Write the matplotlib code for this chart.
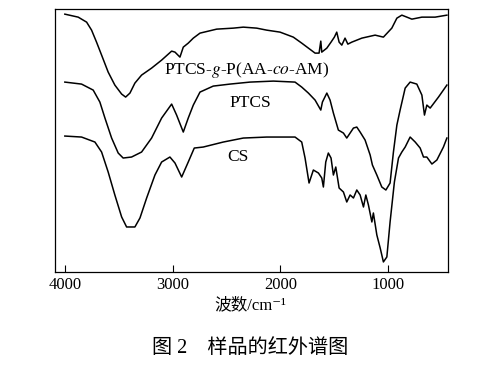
import matplotlib.pyplot as plt

plt.rcParams['font.family'] = ['Liberation Serif', 'Noto Sans CJK SC', 'DejaVu Sans']
plt.rcParams['mathtext.fontset'] = 'stix'

# PTCS-g-P(AA-co-AM)
wn_graft = [4000, 3876, 3798, 3752, 3706, 3659, 3598, 3536, 3473, 3436, 3396, 3350, 3288, 3195,
            3102, 3009, 2978, 2932, 2901, 2855, 2808, 2746, 2591, 2437, 2344, 2220, 2127, 2003,
            1880, 1802, 1740, 1678, 1641, 1625, 1616, 1569, 1530, 1499, 1477, 1455, 1430, 1400,
            1374, 1337, 1244, 1121, 1044, 966, 919, 873, 826, 780, 687, 564, 455]
t_graft = [258, 255, 250, 242, 230, 217, 200, 187, 178, 175, 179, 189, 197, 204,
           212, 221, 220, 215, 225, 229, 234, 239, 243, 244, 245, 244, 242, 240,
           235, 229, 224, 219, 219, 231, 220, 224, 230, 235, 240, 230, 227, 234,
           228, 230, 234, 237, 235, 244, 254, 257, 255, 253, 255, 255, 257]

# PTCS
wn_ptcs = [4000, 3845, 3737, 3675, 3628, 3566, 3505, 3459, 3381, 3288, 3195, 3102, 3009, 2963,
           2901, 2855, 2808, 2746, 2623, 2468, 2282, 2065, 1864, 1802, 1740, 1678, 1641, 1625,
           1610, 1569, 1539, 1508, 1462, 1415, 1384, 1353, 1322, 1291, 1260, 1214, 1167, 1146,
           1105, 1059, 1021, 982, 951, 919, 889, 842, 796, 734, 687, 663, 641, 610, 533, 455]
t_ptcs = [190, 188, 182, 170, 154, 134, 119, 114, 115, 120, 134, 154, 168, 157,
          140, 154, 167, 180, 186, 188, 190, 191, 190, 185, 179, 172, 165, 162,
          170, 179, 172, 159, 142, 139, 134, 139, 144, 145, 140, 132, 117, 107,
          97, 85, 82, 89, 120, 147, 162, 184, 190, 188, 177, 157, 167, 164, 175, 187]

# CS
wn_cs = [4000, 3845, 3721, 3659, 3598, 3536, 3473, 3427, 3350, 3303, 3241, 3164, 3102, 3025,
         2978, 2916, 2855, 2799, 2716, 2530, 2344, 2127, 1910, 1864, 1802, 1771, 1734, 1694,
         1647, 1616, 1601, 1579, 1555, 1530, 1508, 1486, 1455, 1415, 1384, 1353, 1322, 1291,
         1260, 1229, 1207, 1183, 1151, 1137, 1105, 1074, 1044, 1012, 982, 942, 904, 873,
         842, 796, 749, 703, 672, 641, 594, 548, 487, 455]
t_cs = [136, 135, 130, 120, 100, 77, 55, 45, 45, 54, 74, 97, 110, 115,
        109, 95, 110, 124, 125, 130, 134, 135, 135, 135, 130, 114, 89, 102,
        99, 94, 85, 110, 119, 114, 97, 105, 84, 80, 70, 77, 74, 82,
        77, 65, 77, 67, 50, 59, 37, 24, 10, 15, 50, 90, 114, 120,
        125, 135, 130, 124, 115, 115, 108, 112, 125, 134]

fig = plt.figure(figsize=(5.03, 3.66), dpi=100)
ax = fig.add_axes([0.109, 0.257, 0.782, 0.718])

ax.plot(wn_graft, t_graft, color='black', lw=1.1)
ax.plot(wn_ptcs, t_ptcs, color='black', lw=1.1)
ax.plot(wn_cs, t_cs, color='black', lw=1.1)

ax.text(2310, 202, r'PTCS-$\mathit{g}$-P(AA-$\mathit{co}$-AM)', ha='center', va='center', fontsize=12.5)
ax.text(2282, 169, 'PTCS', ha='center', va='center', fontsize=12.5)
ax.text(2393, 115, 'CS', ha='center', va='center', fontsize=12.5)

ax.set_xlim(4093, 443)
ax.set_ylim(0, 263)
ax.set_xticks([4000, 3000, 2000, 1000])
ax.set_yticks([])
ax.tick_params(axis='x', direction='in', length=5, width=0.8, labelsize=12, pad=4)
for s in ax.spines.values():
    s.set_linewidth(0.9)

fig.text(0.497, 0.166, '波数/cm⁻¹', ha='center', va='center', fontsize=12)
fig.text(0.497, 0.049, '图 2　样品的红外谱图', ha='center', va='center', fontsize=14.5)

fig.savefig('out.png', dpi=100)
